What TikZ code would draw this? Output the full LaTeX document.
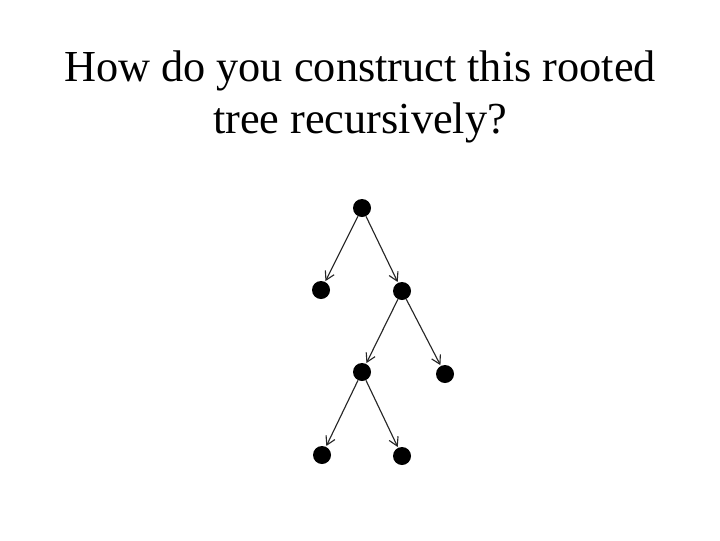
\documentclass[tikz,border=0pt]{standalone}
\usepackage{fontspec}
\setmainfont{Liberation Serif}
\usetikzlibrary{arrows.meta}

\begin{document}
\begin{tikzpicture}
    [
    x=0.025cm,y=-0.025cm,
    vertex/.style={circle,fill=black,inner sep=0pt,minimum size=0.45cm},
    edge/.style={-{Straight Barb[length=6pt,width=7pt]},draw=black!85,line width=0.8pt,shorten >=0.5pt}
    ]
\useasboundingbox[fill=white] (0,0) rectangle (720,540);
\node[align=center,font=\fontsize{31.5}{37}\selectfont] (title) at (360,97)
    {How do you construct this rooted\\tree recursively?};
\node[vertex] (r) at (362,208) {};
\node[vertex] (a) at (321,290) {};
\node[vertex] (b) at (402,291) {};
\node[vertex] (c) at (362,372) {};
\node[vertex] (d) at (445,374) {};
\node[vertex] (e) at (322,455) {};
\node[vertex] (f) at (402,456) {};
\draw[edge] (r) -- (a);
\draw[edge] (r) -- (b);
\draw[edge] (b) -- (c);
\draw[edge] (b) -- (d);
\draw[edge] (c) -- (e);
\draw[edge] (c) -- (f);
\end{tikzpicture}
\end{document}
